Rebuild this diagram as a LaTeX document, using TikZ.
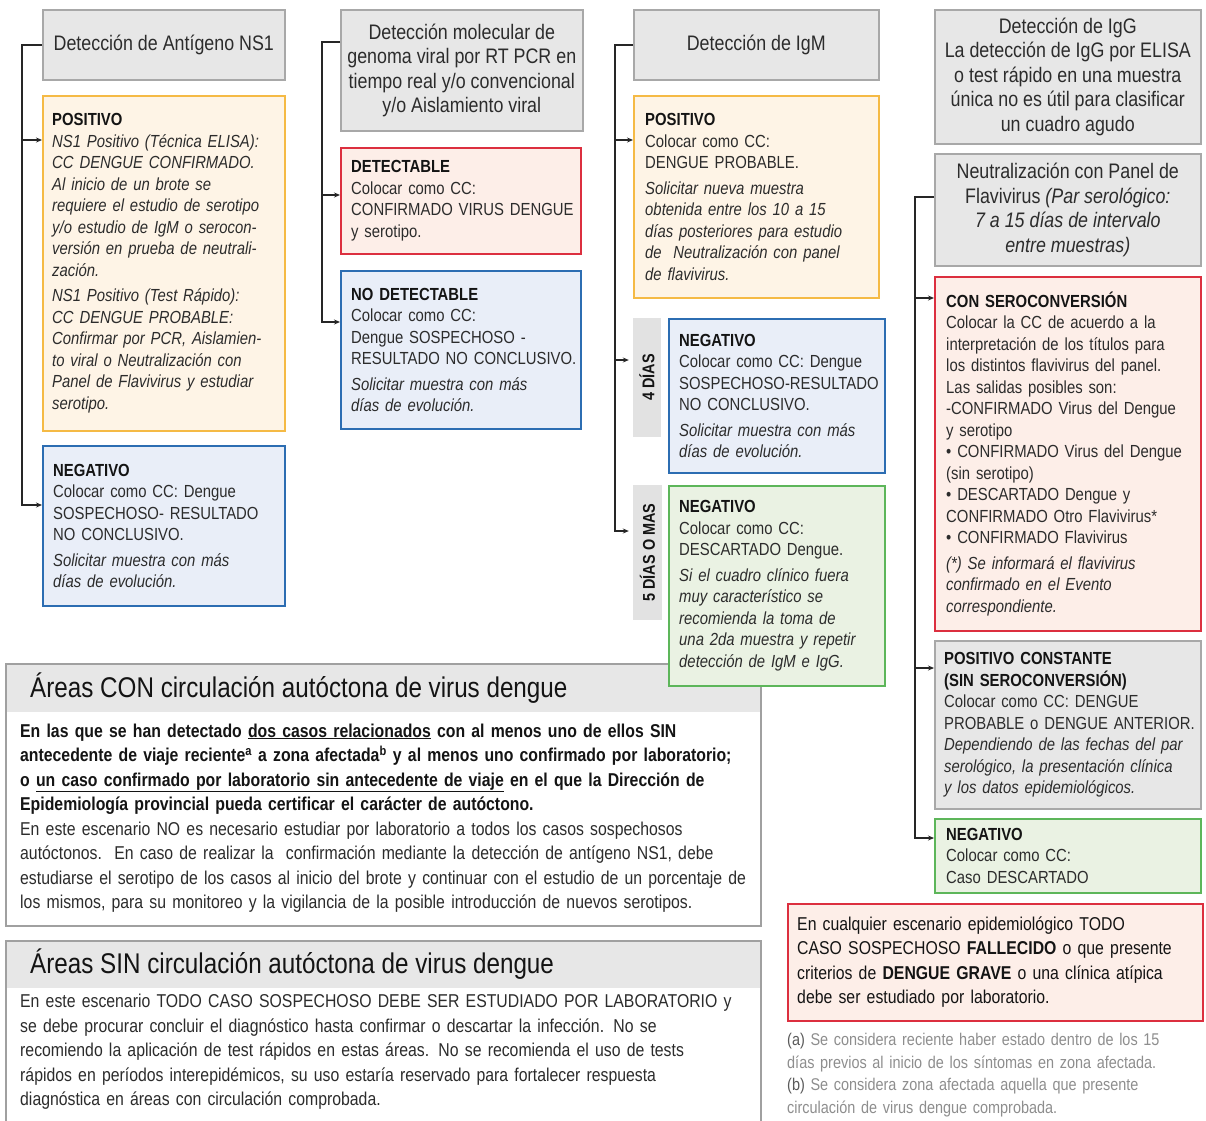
\documentclass[tikz,border=0pt]{standalone}
\usepackage{fontspec}
\setmainfont{Liberation Sans}[FakeStretch=0.85]
\usetikzlibrary{arrows.meta,positioning}

\definecolor{hdrfill}{HTML}{E7E7E7}
\definecolor{hdrline}{HTML}{A8A8A8}
\definecolor{posfill}{HTML}{FEF4E6}
\definecolor{posline}{HTML}{F5BA45}
\definecolor{negfill}{HTML}{E9EEF8}
\definecolor{negline}{HTML}{2C6DB2}
\definecolor{detfill}{HTML}{FDEEE8}
\definecolor{detline}{HTML}{DC2F3F}
\definecolor{grnfill}{HTML}{EAF2E3}
\definecolor{grnline}{HTML}{5DB65A}
\definecolor{tabfill}{HTML}{E2E2E2}
\definecolor{arealine}{HTML}{A0A0A0}
\definecolor{txtgray}{HTML}{2C2C2C}
\definecolor{txtdark}{HTML}{141414}
\definecolor{notegray}{HTML}{8E8E8E}
\definecolor{notedark}{HTML}{5A5A5A}
\definecolor{linedark}{HTML}{262626}

\newcommand{\hdrsize}{\fontsize{21}{24.5}\selectfont}
\newcommand{\bodysize}{\fontsize{17.5}{21.5}\selectfont}
\newcommand{\areasize}{\fontsize{18.6}{24.5}\selectfont}
\newcommand{\titlesize}{\fontsize{28.5}{30}\selectfont}
\newcommand{\notesize}{\fontsize{17}{22.7}\selectfont}
\newcommand{\tabsize}{\fontsize{17}{17}\selectfont}
\newcommand{\boxhead}[1]{{\color{txtdark}\bfseries #1}}

\begin{document}
\begin{tikzpicture}[x=1pt,y=-1pt,
    >={Stealth[length=6pt,width=5pt]},
    every node/.style={inner sep=0pt,text=txtgray},
    hdr/.style={draw=hdrline,fill=hdrfill,line width=1.6pt,anchor=north west,align=center,font=\hdrsize},
    resbox/.style={line width=1.6pt,anchor=north west},
    posbox/.style={resbox,draw=posline,fill=posfill},
    negbox/.style={resbox,draw=negline,fill=negfill},
    detbox/.style={resbox,draw=detline,fill=detfill},
    grnbox/.style={resbox,draw=grnline,fill=grnfill},
    grybox/.style={resbox,draw=hdrline,fill=hdrfill},
    boxtxt/.style={text width=300pt,align=left,font=\bodysize},
    daytab/.style={fill=tabfill,rotate=90,text=txtdark,font=\tabsize\bfseries},
    band/.style={fill=hdrfill,anchor=north west},
    titletxt/.style={text=txtdark,font=\titlesize},
    areatxt/.style={text width=750pt,align=left,font=\areasize},
    spine/.style={draw=linedark,line width=1.8pt},
    link/.style={spine,->},
  ]
  \fill[white] (0,0) rectangle (1206,1120);
  \useasboundingbox (0,0) rectangle (1206,1120);

  % areas
  \node[band,minimum width=755,minimum height=49] (conband) at (5,663) {};
  \node[resbox,draw=arealine,minimum width=755,minimum height=262] (conarea) at (5,663) {};
  \node[titletxt,right=25pt of conband.west] (contitle) {Áreas CON circulación autóctona de virus dengue};
  \coordinate (conanchor) at (20,818);
  \node[areatxt,anchor=west] (conbody) at (conanchor) {{\color{txtdark}\bfseries
    En las que se han detectado \underline{dos casos relacionados} con al menos uno de ellos SIN\\
    antecedente de viaje reciente\textsuperscript{a} a zona afectada\textsuperscript{b} y al menos uno confirmado por laboratorio;\\
    o \underline{un caso confirmado por laboratorio sin antecedente de viaje} en el que la Dirección de\\
    Epidemiología provincial pueda certificar el carácter de autóctono.}\\
    En este escenario NO es necesario estudiar por laboratorio a todos los casos sospechosos\\
    autóctonos.\ \ En caso de realizar la\ \ confirmación mediante la detección de antígeno NS1, debe\\
    estudiarse el serotipo de los casos al inicio del brote y continuar con el estudio de un porcentaje de\\
    los mismos, para su monitoreo y la vigilancia de la posible introducción de nuevos serotipos.};

  \node[band,minimum width=755,minimum height=48] (sinband) at (5,940) {};
  \node[resbox,draw=arealine,minimum width=755,minimum height=183] (sinarea) at (5,940) {};
  \node[titletxt,right=25pt of sinband.west] (sintitle) {Áreas SIN circulación autóctona de virus dengue};
  \coordinate (sinanchor) at (20,1052);
  \node[areatxt,anchor=west] (sinbody) at (sinanchor) {En este escenario TODO CASO SOSPECHOSO DEBE SER ESTUDIADO POR LABORATORIO y\\
    se debe procurar concluir el diagnóstico hasta confirmar o descartar la infección. No se\\
    recomiendo la aplicación de test rápidos en estas áreas. No se recomienda el uso de tests\\
    rápidos en períodos interepidémicos, su uso estaría reservado para fortalecer respuesta\\
    diagnóstica en áreas con circulación comprobada.};

  % NS1 column
  \node[hdr,minimum width=242,minimum height=70] (ns1hd) at (42,9) {Detección de Antígeno NS1};
  \node[posbox,minimum width=242,minimum height=335] (ns1pos) at (42,95) {};
  \node[boxtxt,right=10pt of ns1pos.west] (ns1postx) {\boxhead{POSITIVO}\\
    \itshape NS1 Positivo (Técnica ELISA):\\
    CC DENGUE CONFIRMADO.\\
    Al inicio de un brote se\\
    requiere el estudio de serotipo\\
    y/o estudio de IgM o serocon-\\
    versión en prueba de neutrali-\\
    zación.\\[4pt]
    NS1 Positivo (Test Rápido):\\
    CC DENGUE PROBABLE:\\
    Confirmar por PCR, Aislamien-\\
    to viral o Neutralización con\\
    Panel de Flavivirus y estudiar\\
    serotipo.};
  \node[negbox,minimum width=242,minimum height=160] (ns1neg) at (42,445) {};
  \node[boxtxt,right=11pt of ns1neg.west] (ns1negtx) {\boxhead{NEGATIVO}\\
    Colocar como CC: Dengue\\
    SOSPECHOSO- RESULTADO\\
    NO CONCLUSIVO.\\[4pt]
    \itshape Solicitar muestra con más\\
    días de evolución.};

  % PCR column
  \node[hdr,minimum width=242,minimum height=121] (pcrhd) at (340,9) {Detección molecular de\\
    genoma viral por RT PCR en\\tiempo real y/o convencional\\y/o Aislamiento viral};
  \node[detbox,minimum width=240,minimum height=106] (pcrdet) at (340,147) {};
  \node[boxtxt,right=11pt of pcrdet.west] (pcrdettx) {\boxhead{DETECTABLE}\\
    Colocar como CC:\\
    CONFIRMADO VIRUS DENGUE\\
    y serotipo.};
  \node[negbox,minimum width=240,minimum height=158] (pcrnod) at (340,270) {};
  \node[boxtxt,right=11pt of pcrnod.west] (pcrnodtx) {\boxhead{NO DETECTABLE}\\
    Colocar como CC:\\
    Dengue SOSPECHOSO -\\
    RESULTADO NO CONCLUSIVO.\\[4pt]
    \itshape Solicitar muestra con más\\
    días de evolución.};

  % IgM column
  \node[hdr,minimum width=245,minimum height=70] (igmhd) at (633,9) {Detección de IgM};
  \node[posbox,minimum width=245,minimum height=202] (igmpos) at (633,95) {};
  \node[boxtxt,right=12pt of igmpos.west] (igmpostx) {\boxhead{POSITIVO}\\
    Colocar como CC:\\
    DENGUE PROBABLE.\\[4pt]
    \itshape Solicitar nueva muestra\\
    obtenida entre los 10 a 15\\
    días posteriores para estudio\\
    de\ \ Neutralización con panel\\
    de flavivirus.};
  \node[daytab,minimum width=119,minimum height=28] (tab4) at (647,377.5) {4 DÍAS};
  \node[negbox,minimum width=216,minimum height=154] (igmneg) at (668,318) {};
  \node[boxtxt,right=11pt of igmneg.west] (igmnegtx) {\boxhead{NEGATIVO}\\
    Colocar como CC: Dengue\\
    SOSPECHOSO-RESULTADO\\
    NO CONCLUSIVO.\\[4pt]
    \itshape Solicitar muestra con más\\
    días de evolución.};
  \node[daytab,minimum width=135,minimum height=29] (tab5) at (647.5,552.5) {5 DÍAS O MAS};
  \node[grnbox,minimum width=216,minimum height=200] (igmgrn) at (668,485) {};
  \node[boxtxt,right=11pt of igmgrn.west] (igmgrntx) {\boxhead{NEGATIVO}\\
    Colocar como CC:\\
    DESCARTADO Dengue.\\[4pt]
    \itshape Si el cuadro clínico fuera\\
    muy característico se\\
    recomienda la toma de\\
    una 2da muestra y repetir\\
    detección de IgM e IgG.};

  % IgG column
  \node[hdr,minimum width=266,minimum height=134] (igghd) at (934,9) {Detección de IgG\\
    La detección de IgG por ELISA\\o test rápido en una muestra\\
    única no es útil para clasificar\\un cuadro agudo};
  \node[hdr,minimum width=266,minimum height=112] (neuhd) at (934,153) {Neutralización con Panel de\\
    Flavivirus \textit{(Par serológico:}\\\textit{7 a 15 días de intervalo}\\\textit{entre muestras)}};
  \node[detbox,minimum width=266,minimum height=354] (conser) at (934,276) {};
  \node[boxtxt,right=12pt of conser.west] (consertx) {\boxhead{CON SEROCONVERSIÓN}\\
    Colocar la CC de acuerdo a la\\
    interpretación de los títulos para\\
    los distintos flavivirus del panel.\\
    Las salidas posibles son:\\
    -CONFIRMADO Virus del Dengue\\
    y serotipo\\
    • CONFIRMADO Virus del Dengue\\
    (sin serotipo)\\
    • DESCARTADO Dengue y\\
    CONFIRMADO Otro Flavivirus*\\
    • CONFIRMADO Flavivirus\\[4pt]
    \itshape (*) Se informará el flavivirus\\
    confirmado en el Evento\\
    correspondiente.};
  \node[grybox,minimum width=266,minimum height=168] (poscon) at (934,640) {};
  \node[boxtxt,right=10pt of poscon.west] (poscontx) {\boxhead{POSITIVO CONSTANTE\\(SIN SEROCONVERSIÓN)}\\
    Colocar como CC: DENGUE\\
    PROBABLE o DENGUE ANTERIOR.\\
    \itshape Dependiendo de las fechas del par\\
    serológico, la presentación clínica\\
    y los datos epidemiológicos.};
  \node[grnbox,minimum width=266,minimum height=74] (negcas) at (934,818) {};
  \node[boxtxt,right=12pt of negcas.west] (negcastx) {\boxhead{NEGATIVO}\\
    Colocar como CC:\\
    Caso DESCARTADO};

  % connectors
  \coordinate (s1a) at (22,140);
  \coordinate (s1b) at (22,505);
  \draw[link] (ns1hd.west) -| (s1b) -- (s1b -| ns1neg.west);
  \draw[link] (s1a) -- (s1a -| ns1pos.west);

  \coordinate (s2t) at (322,42);
  \coordinate (s2a) at (322,195);
  \coordinate (s2b) at (322,322);
  \draw[link] (s2t -| pcrhd.west) -- (s2t) -- (s2b) -- (s2b -| pcrnod.west);
  \draw[link] (s2a) -- (s2a -| pcrdet.west);

  \coordinate (s3a) at (615,140);
  \coordinate (s3b) at (615,360);
  \coordinate (s3c) at (615,531);
  \draw[link,shorten >=4pt] (igmhd.west) -| (s3c) -- (s3c -| tab5.north);
  \draw[link] (s3a) -- (s3a -| igmpos.west);
  \draw[link,shorten >=4pt] (s3b) -- (s3b -| tab4.north);

  \coordinate (s4t) at (915,197);
  \coordinate (s4a) at (915,298);
  \coordinate (s4b) at (915,668);
  \coordinate (s4c) at (915,838);
  \draw[link] (s4t -| neuhd.west) -- (s4t) -- (s4c) -- (s4c -| negcas.west);
  \draw[link] (s4a) -- (s4a -| conser.west);
  \draw[link] (s4b) -- (s4b -| poscon.west);

  % any scenario
  \node[detbox,minimum width=415,minimum height=117] (allbox) at (787,903) {};
  \node[areatxt,text=txtdark,right=10pt of allbox.west] (alltx) {En cualquier escenario epidemiológico TODO\\
    CASO SOSPECHOSO \textbf{FALLECIDO} o que presente\\
    criterios de \textbf{DENGUE GRAVE} o una clínica atípica\\
    debe ser estudiado por laboratorio.};
  \coordinate (noteanchor) at (787,1075);
  \node[text width=420pt,align=left,font=\notesize,text=notegray,anchor=west] (notes) at (noteanchor) {{\color{notedark}(a)} Se considera reciente haber estado dentro de los 15\\
    días previos al inicio de los síntomas en zona afectada.\\
    {\color{notedark}(b)} Se considera zona afectada aquella que presente\\
    circulación de virus dengue comprobada.};
\end{tikzpicture}
\end{document}
